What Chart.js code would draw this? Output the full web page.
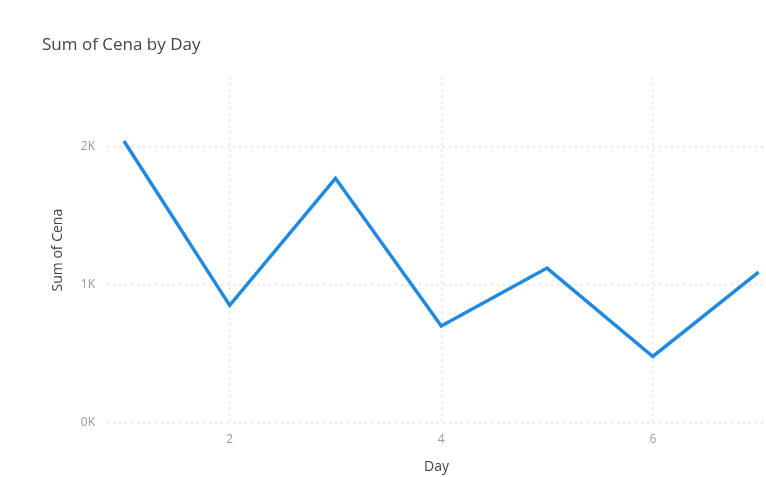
<!DOCTYPE html>
<html>
<head>
<meta charset="utf-8">
<title>Sum of Cena by Day</title>
<script src="https://cdn.jsdelivr.net/npm/chart.js@4"></script>
<style>
  html, body { margin: 0; padding: 0; background: #fff; }
  #wrap { width: 766px; height: 477px; }
</style>
</head>
<body>
<div id="wrap"><canvas id="cenaChart"></canvas></div>
<script>
// Sum of Cena per day
const days = [1, 2, 3, 4, 5, 6, 7];
const cena = [2040, 850, 1770, 700, 1120, 480, 1090];

const xTicks = [2, 4, 6];
const yTicks = [0, 1000, 2000];
const yTickLabels = ['0K', '1K', '2K'];

const fontFamily = '"Segoe UI", "Open Sans", "DejaVu Sans", sans-serif';
const gridStyle = {
    color: '#dedede',
    lineWidth: 1.5,
    drawTicks: false
};

const ctx = document.getElementById('cenaChart').getContext('2d');

new Chart(ctx, {
    type: 'line',
    data: {
        datasets: [{
            label: 'Sum of Cena',
            data: days.map((d, i) => ({ x: d, y: cena[i] })),
            borderColor: '#1f8ae0',
            borderWidth: 3.5,
            pointRadius: 0,
            tension: 0,
            fill: false
        }]
    },
    options: {
        responsive: true,
        maintainAspectRatio: false,
        animation: false,
        layout: { padding: { left: 42, right: 0, top: 0, bottom: 2 } },
        plugins: {
            legend: { display: false },
            tooltip: { enabled: false },
            title: {
                display: true,
                text: 'Sum of Cena by Day',
                align: 'start',
                color: '#444',
                font: { family: fontFamily, size: 17, weight: 'normal' },
                padding: { top: 35, bottom: 22 }
            }
        },
        scales: {
            x: {
                type: 'linear',
                min: 0.84,
                max: 7.07,
                afterBuildTicks: s => { s.ticks = xTicks.map(v => ({ value: v })); },
                border: { display: false, dash: [2, 4] },
                grid: gridStyle,
                ticks: {
                    color: '#999',
                    padding: 10,
                    font: { family: fontFamily, size: 12 }
                },
                title: {
                    display: true,
                    text: 'Day',
                    color: '#444',
                    padding: { top: 1, bottom: 0 },
                    font: { family: fontFamily, size: 14 }
                }
            },
            y: {
                min: 0,
                max: 2500,
                afterBuildTicks: s => { s.ticks = yTicks.map(v => ({ value: v })); },
                afterFit: s => { s.width = 65; },
                border: { display: false, dash: [2, 4] },
                grid: gridStyle,
                ticks: {
                    color: '#999',
                    padding: 12,
                    font: { family: fontFamily, size: 12 },
                    callback: v => yTickLabels[yTicks.indexOf(v)]
                },
                title: {
                    display: true,
                    text: 'Sum of Cena',
                    color: '#444',
                    padding: { top: 8, bottom: 0 },
                    font: { family: fontFamily, size: 14 }
                }
            }
        }
    }
});
</script>
</body>
</html>
